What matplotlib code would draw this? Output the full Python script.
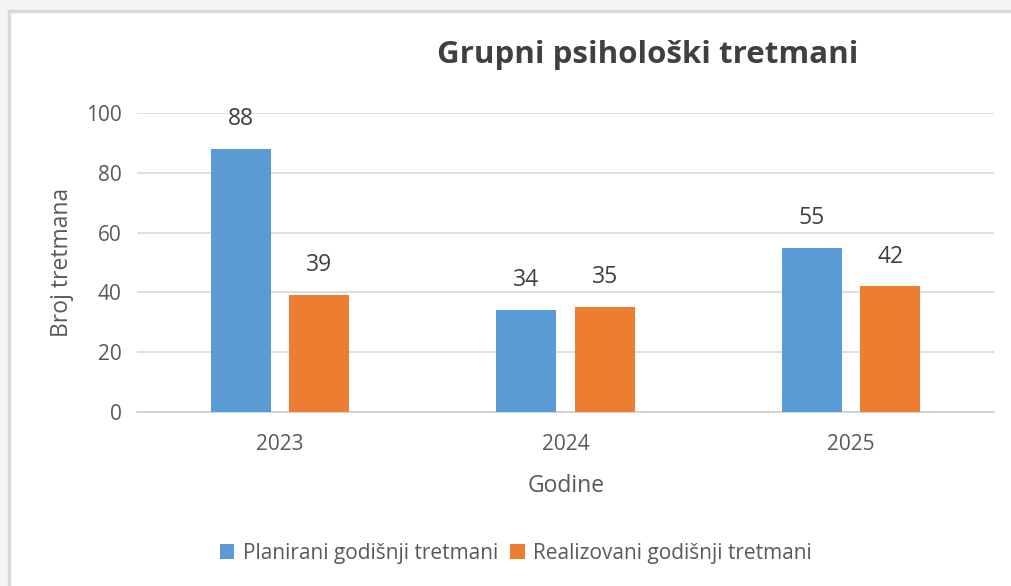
import matplotlib
matplotlib.use("Agg")
import matplotlib.pyplot as plt
from matplotlib.patches import Rectangle
import numpy as np

categories = ["2023", "2024", "2025"]
planirani = [88, 34, 55]
realizovani = [39, 35, 42]
series_names = ["Planirani godišnji tretmani", "Realizovani godišnji tretmani"]
yticks = [0, 20, 40, 60, 80, 100]

W, H = 1011, 586
fig = plt.figure(figsize=(W / 100, H / 100), dpi=100)
fig.patch.set_facecolor("#f4f4f4")
fam = ["Open Sans", "DejaVu Sans"]

# white chart area with light border
fig.patches.append(Rectangle((9 / W, -0.05), 1.1, (H - 11) / H + 0.05, transform=fig.transFigure,
                             facecolor="white", edgecolor="#d9d9d9", linewidth=2.5, zorder=-10))

ax = fig.add_axes([137 / W, 1 - 412 / H, (994 - 137) / W, (412 - 113) / H * 1.0])
ax.set_facecolor("none")
x = np.arange(len(categories))
bw = 0.21
off = 0.137
c1, c2 = "#5b9bd5", "#ed7d31"
b1 = ax.bar(x - off, planirani, bw, color=c1, label=series_names[0], zorder=3)
b2 = ax.bar(x + off, realizovani, bw, color=c2, label=series_names[1], zorder=3)
for bars, vals in ((b1, planirani), (b2, realizovani)):
    for r, v in zip(bars, vals):
        ax.text(r.get_x() + r.get_width() / 2, v + 10, str(v), ha="center", va="center",
                fontsize=16.5, color="#404040", family=fam)

ax.set_xlim(-0.5, 2.5)
ax.set_ylim(0, 100)
ax.set_yticks(yticks)
ax.set_xticks(x)
ax.set_xticklabels(categories)
ax.grid(axis="y", color="#d9d9d9", linewidth=1.2, zorder=0)
for s in ["top", "right", "left"]:
    ax.spines[s].set_visible(False)
ax.spines["bottom"].set_color("#d0d0d0")
ax.spines["bottom"].set_linewidth(1.2)
ax.tick_params(length=0, labelsize=15, labelcolor="#595959", pad=11)
ax.tick_params(axis="x", pad=16)
for lab in ax.get_xticklabels() + ax.get_yticklabels():
    lab.set_family(fam)

fig.text(648 / W, 1 - 55 / H, "Grupni psihološki tretmani", ha="center", va="center",
         fontsize=22.5, fontweight="bold", color="#404040", family=fam)
fig.text(62 / W, 1 - 262 / H, "Broj tretmana", rotation=90, ha="center", va="center",
         fontsize=16.5, color="#595959", family=fam)
fig.text(566 / W, 1 - 486 / H, "Godine", ha="center", va="center",
         fontsize=16.5, color="#595959", family=fam)

leg = fig.legend(handles=[b1, b2], labels=series_names, loc="center", bbox_to_anchor=(516 / W, 1 - 553 / H),
                 ncol=2, frameon=False, handlelength=0.7, handleheight=0.7, handletextpad=0.4,
                 columnspacing=0.6, prop={"family": fam, "size": 15})
for t in leg.get_texts():
    t.set_color("#595959")

fig.savefig("out.png", dpi=100, facecolor=fig.get_facecolor())
